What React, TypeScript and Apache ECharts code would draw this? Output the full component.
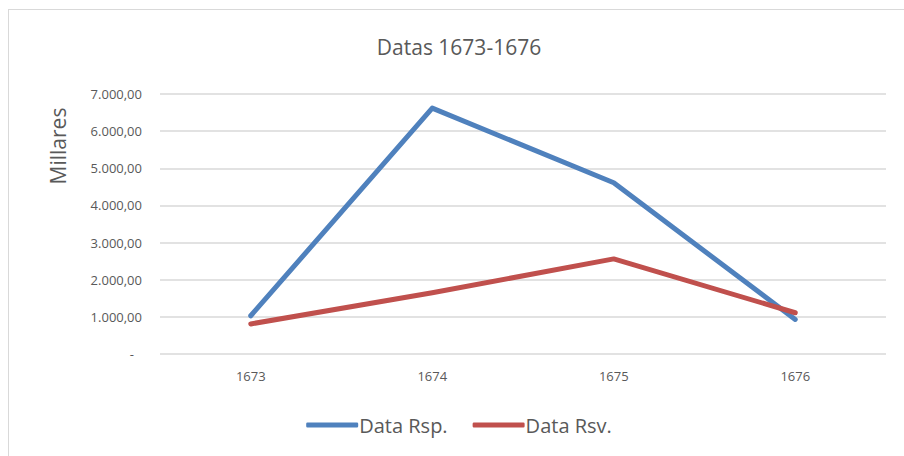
import React, { useEffect, useRef } from "react";
import * as echarts from "echarts";

const categories = ["1673", "1674", "1675", "1676"];
const dataRsp = [1030, 6620, 4610, 930];
const dataRsv = [810, 1650, 2560, 1110];
const seriesNames = ["Data Rsp.", "Data Rsv."];
const titleText = "Datas 1673-1676";
const yAxisName = "Millares";

const fmt = (v: number) => {
  if (v === 0) return "{dash|-}";
  const s = v.toFixed(2).replace(".", ",");
  const [i, d] = s.split(",");
  return i.replace(/\B(?=(\d{3})+(?!\d))/g, ".") + "," + d;
};

export default function App() {
  const ref = useRef<HTMLDivElement>(null);
  useEffect(() => {
    if (!ref.current) return;
    const chart = echarts.init(ref.current, undefined, { renderer: "svg" });
    const font = "'Open Sans', 'Noto Sans', sans-serif";
    chart.setOption({
      animation: false,
      backgroundColor: "#fff",
      title: {
        text: titleText,
        left: "center",
        top: 21,
        textStyle: { color: "#595959", fontSize: 21, fontWeight: "normal", fontFamily: font },
      },
      legend: {
        bottom: 20,
        left: "center",
        icon: "roundRect",
        itemWidth: 52,
        itemHeight: 5,
        itemGap: 25,
        textStyle: { color: "#595959", fontSize: 20, fontFamily: font, padding: [0, 0, 0, -4] },
        data: seriesNames,
      },
      graphic: [
        {
          type: "text",
          x: 49,
          y: 136,
          rotation: Math.PI / 2,
          style: {
            text: yAxisName,
            fill: "#595959",
            fontSize: 21,
            fontFamily: font,
            align: "center",
            verticalAlign: "middle",
          },
        },
      ],
      grid: { left: 151, right: 23, top: 84, bottom: 106 },
      xAxis: {
        type: "category",
        data: categories,
        boundaryGap: true,
        axisLine: { show: false },
        axisTick: { show: false },
        axisLabel: { color: "#595959", fontSize: 13, margin: 15, fontFamily: font },
      },
      yAxis: {
        type: "value",
        min: 0,
        max: 7000,
        interval: 1000,
        axisLine: { show: false },
        axisTick: { show: false },
        splitLine: { lineStyle: { color: "#d9d9d9", width: 1.5 } },
        axisLabel: {
          color: "#595959",
          fontSize: 13,
          margin: 18,
          fontFamily: font,
          formatter: fmt,
          rich: { dash: { color: "#595959", fontSize: 13, padding: [0, 8, 0, 0] } },
        },
      },
      series: [
        {
          name: seriesNames[0],
          type: "line",
          data: dataRsp,
          showSymbol: false,
          symbol: "none",
          color: "#4F81BD",
          lineStyle: { color: "#4F81BD", width: 5, cap: "round", join: "round" },
        },
        {
          name: seriesNames[1],
          type: "line",
          data: dataRsv,
          showSymbol: false,
          symbol: "none",
          color: "#C0504D",
          lineStyle: { color: "#C0504D", width: 5, cap: "round", join: "round" },
        },
      ],
    });
    return () => chart.dispose();
  }, []);
  return (
    <div
      style={{
        position: "fixed",
        left: 0,
        top: 0,
        width: 904,
        height: 456,
        overflow: "hidden",
        background: "#fff",
      }}
    >
      <div
        style={{
          position: "absolute",
          left: 8,
          top: 9,
          width: 900,
          height: 450,
          border: "1px solid #d9d9d9",
        }}
      >
        <div ref={ref} style={{ width: 900, height: 450 }} />
      </div>
    </div>
  );
}
